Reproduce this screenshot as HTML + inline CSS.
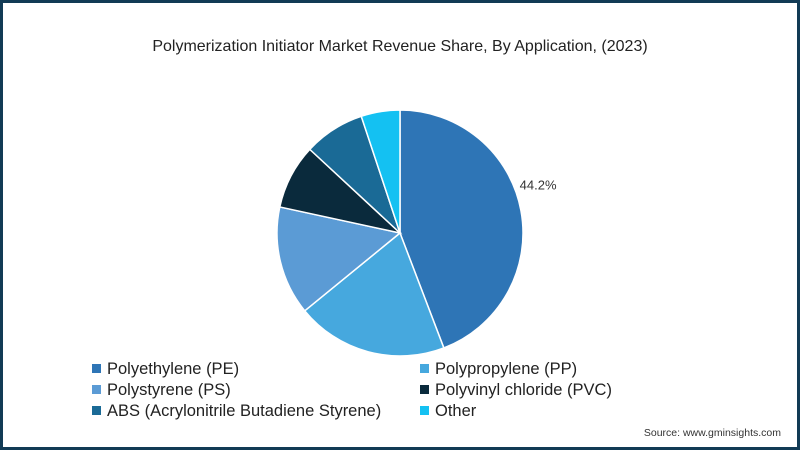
<!DOCTYPE html>
<html><head><meta charset="utf-8"><style>
body{margin:0;width:800px;height:450px;overflow:hidden;background:#fff;font-family:"Liberation Sans",sans-serif;}
#frame{position:absolute;left:0;top:0;width:794px;height:444px;border:3px solid #123b55;background:#fff;}
</style></head><body>
<div id="frame"></div>
<svg width="800" height="450" style="position:absolute;left:0;top:0">
<text x="400" y="51" text-anchor="middle" font-size="16" fill="#222">Polymerization Initiator Market Revenue Share, By Application, (2023)</text>
<g id="pie"></g>
<g id="legend"></g>
<text x="781" y="436" text-anchor="end" font-size="10.5" fill="#333">Source: www.gminsights.com</text>
</svg>
<script>
const categories=["Polyethylene (PE)","Polypropylene (PP)","Polystyrene (PS)","Polyvinyl chloride (PVC)","ABS (Acrylonitrile Butadiene Styrene)","Other"];
const values=[44.2,19.9,14.3,8.5,8.0,5.1];
const colors=["#2e75b6","#46a8de","#5b9bd5","#0a2a3c","#1a6a96","#14c1f2"];
const shownLabels=["44.2%","","","","",""];
const NS="http://www.w3.org/2000/svg";
const cx=400,cy=233,r=123;
const total=values.reduce((a,b)=>a+b,0);
const pie=document.getElementById('pie');
let acc=0;
function pt(a,rr){return [cx+rr*Math.sin(a),cy-rr*Math.cos(a)];}
values.forEach((v,i)=>{
  const a0=acc/total*2*Math.PI;acc+=v;const a1=acc/total*2*Math.PI;
  const p0=pt(a0,r),p1=pt(a1,r);
  const path=document.createElementNS(NS,'path');
  path.setAttribute('d',`M${cx},${cy}L${p0[0]},${p0[1]}A${r},${r} 0 ${a1-a0>Math.PI?1:0} 1 ${p1[0]},${p1[1]}Z`);
  path.setAttribute('fill',colors[i]);path.setAttribute('stroke','#fff');path.setAttribute('stroke-width','1.5');
  
  
  pie.appendChild(path);
  if(shownLabels[i]){
    const am=(a0+a1)/2;const lp=pt(am,r+18);
    const t=document.createElementNS(NS,'text');
    t.setAttribute('x',lp[0]-19);t.setAttribute('y',lp[1]-18);
    t.setAttribute('font-size','13');t.setAttribute('fill','#333');
    t.textContent=shownLabels[i];
    
    
    pie.appendChild(t);
  }
});
const lg=document.getElementById('legend');
categories.forEach((c,i)=>{
  const col=i%2,row=Math.floor(i/2);
  const x=col?420:92,y=369+row*21;
  const g=document.createElementNS(NS,'g');
  
  
  const rc=document.createElementNS(NS,'rect');
  rc.setAttribute('x',x);rc.setAttribute('y',y-5);rc.setAttribute('width',9);rc.setAttribute('height',9);rc.setAttribute('fill',colors[i]);
  const t=document.createElementNS(NS,'text');
  t.setAttribute('x',x+15);t.setAttribute('y',y+5);t.setAttribute('font-size','16.5');t.setAttribute('fill','#222');
  t.textContent=c;
  g.appendChild(rc);g.appendChild(t);lg.appendChild(g);
});
</script>
</body></html>
